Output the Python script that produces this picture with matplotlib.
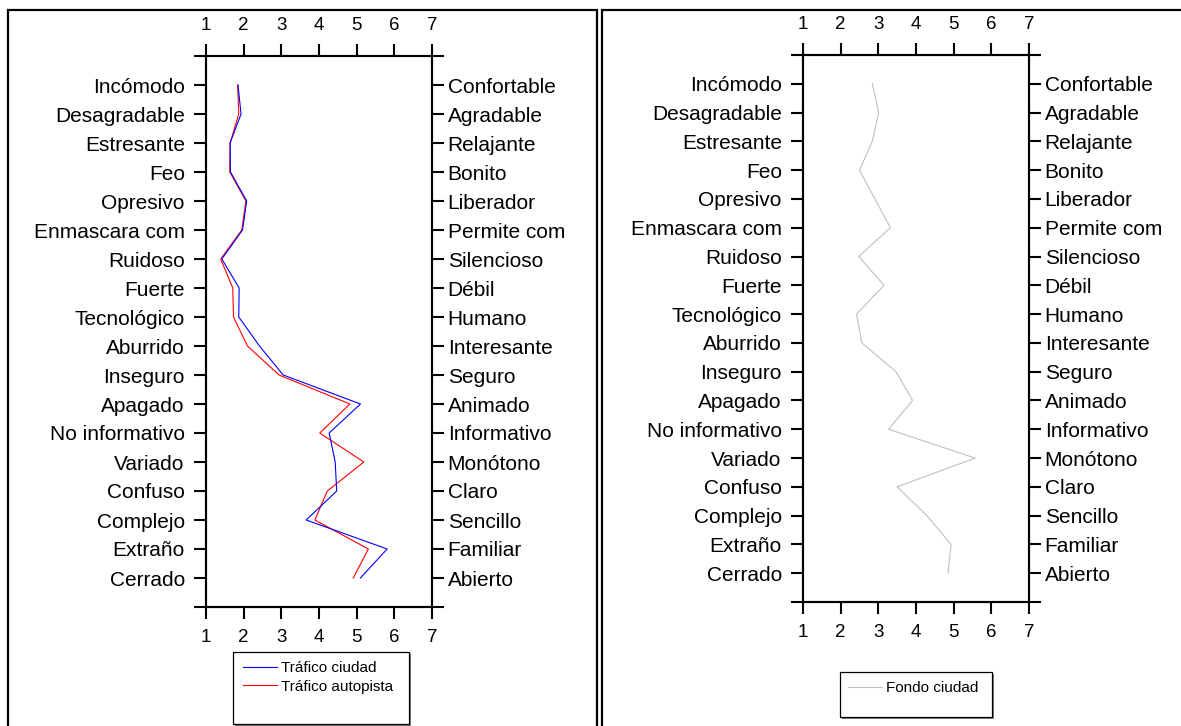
import matplotlib
matplotlib.use("Agg")
import matplotlib.pyplot as plt
from matplotlib.lines import Line2D
from matplotlib.patches import Rectangle

plt.rcParams['font.family'] = ['Liberation Sans', 'DejaVu Sans']

# semantic differential pairs (negative pole / positive pole)
left_labels = ["Incómodo", "Desagradable", "Estresante", "Feo", "Opresivo",
               "Enmascara com", "Ruidoso", "Fuerte", "Tecnológico", "Aburrido",
               "Inseguro", "Apagado", "No informativo", "Variado", "Confuso",
               "Complejo", "Extraño", "Cerrado"]
right_labels = ["Confortable", "Agradable", "Relajante", "Bonito", "Liberador",
                "Permite com", "Silencioso", "Débil", "Humano", "Interesante",
                "Seguro", "Animado", "Informativo", "Monótono", "Claro",
                "Sencillo", "Familiar", "Abierto"]

trafico_ciudad = [1.85, 1.93, 1.64, 1.65, 2.08, 1.97, 1.42, 1.88, 1.87,
                  2.42, 3.05, 5.10, 4.27, 4.43, 4.47, 3.66, 5.81, 5.10]
trafico_autopista = [1.84, 1.87, 1.64, 1.63, 2.06, 1.95, 1.39, 1.71, 1.73,
                     2.10, 2.94, 4.82, 4.02, 5.19, 4.22, 3.89, 5.31, 4.91]
fondo_ciudad = [2.84, 3.01, 2.84, 2.50, 2.91, 3.32, 2.48, 3.15, 2.42,
                2.56, 3.47, 3.91, 3.27, 5.57, 3.50, 4.29, 4.93, 4.85]

scale_ticks = [1, 2, 3, 4, 5, 6, 7]

W, H = 1181, 726
fig = plt.figure(figsize=(W / 100, H / 100), dpi=100)


def px_box(x0, y0, x1, y1):
    return [x0 / W, (H - y1) / H, (x1 - x0) / W, (y1 - y0) / H]


def profile_axes(box):
    ax = fig.add_axes(px_box(*box))
    rows = list(range(0, len(left_labels) + 2))
    ax.set_xlim(1, 7)
    ax.set_ylim(rows[-1], rows[0])
    ax.set_xticks(scale_ticks)
    ax.set_xticklabels([str(t) for t in scale_ticks])
    ax.set_yticks(rows)
    ax.set_yticklabels([""] + left_labels + [""])
    ax.tick_params(axis='x', top=True, labeltop=True, bottom=True, labelbottom=True,
                   direction='out', length=8.3, width=1.5, pad=7.5, labelsize=13.5)
    ax.tick_params(axis='y', left=True, right=False, direction='out',
                   length=8.3, width=1.5, pad=7, labelsize=15)
    for s in ax.spines.values():
        s.set_linewidth(1.5)

    ax2 = ax.twinx()
    ax2.set_ylim(rows[-1], rows[0])
    ax2.set_yticks(rows)
    ax2.set_yticklabels([""] + right_labels + [""])
    ax2.tick_params(axis='y', direction='out', length=8.3, width=1.5, pad=3,
                    labelsize=15)
    for s in ax2.spines.values():
        s.set_linewidth(1.5)
    return ax


def legend_box(handles, anchor, rect):
    x0, y0, x1, y1 = rect
    # shadowed frame behind the legend entries
    fig.patches.append(Rectangle((x0 / W + 1.5 / W, (H - y1) / H - 1.5 / H),
                                 (x1 - x0) / W, (y1 - y0) / H,
                                 transform=fig.transFigure, facecolor='#808080',
                                 edgecolor='none', zorder=1))
    fig.patches.append(Rectangle((x0 / W, (H - y1) / H), (x1 - x0) / W, (y1 - y0) / H,
                                 transform=fig.transFigure, facecolor='white',
                                 edgecolor='black', linewidth=0.9, zorder=2))
    leg = fig.legend(handles=handles, loc='upper left',
                     bbox_to_anchor=(anchor[0] / W, (H - anchor[1]) / H),
                     bbox_transform=fig.transFigure, frameon=False, fontsize=11,
                     borderpad=0, borderaxespad=0, handlelength=2.2,
                     handletextpad=0.3, labelspacing=0.3)
    leg.set_zorder(5)


# outer panel frames
for x0, x1 in [(8, 597), (602, 1190)]:
    fig.patches.append(Rectangle((x0 / W, -0.05), (x1 - x0) / W, (H - 10) / H + 0.05,
                                 transform=fig.transFigure, facecolor='none',
                                 edgecolor='black', linewidth=1.6, zorder=0))

rows_idx = list(range(1, len(left_labels) + 1))

# left panel: traffic sounds
ax_l = profile_axes((206, 56, 432, 607))
ax_l.plot(trafico_autopista, rows_idx, color='#ff0000', linewidth=0.8)
ax_l.plot(trafico_ciudad, rows_idx, color='#0000ff', linewidth=0.8)
legend_box([Line2D([], [], color='#0000ff', linewidth=0.8, label='Tráfico ciudad'),
            Line2D([], [], color='#ff0000', linewidth=0.8, label='Tráfico autopista')],
           (243, 661), (233, 652, 409, 724))

# right panel: background city sound
ax_r = profile_axes((803, 55, 1029, 602))
ax_r.plot(fondo_ciudad, rows_idx, color='#c0c0c0', linewidth=0.8)
legend_box([Line2D([], [], color='#c0c0c0', linewidth=0.8, label='Fondo ciudad')],
           (848, 681), (840, 672, 992, 717))

fig.savefig("out.png", dpi=100)
